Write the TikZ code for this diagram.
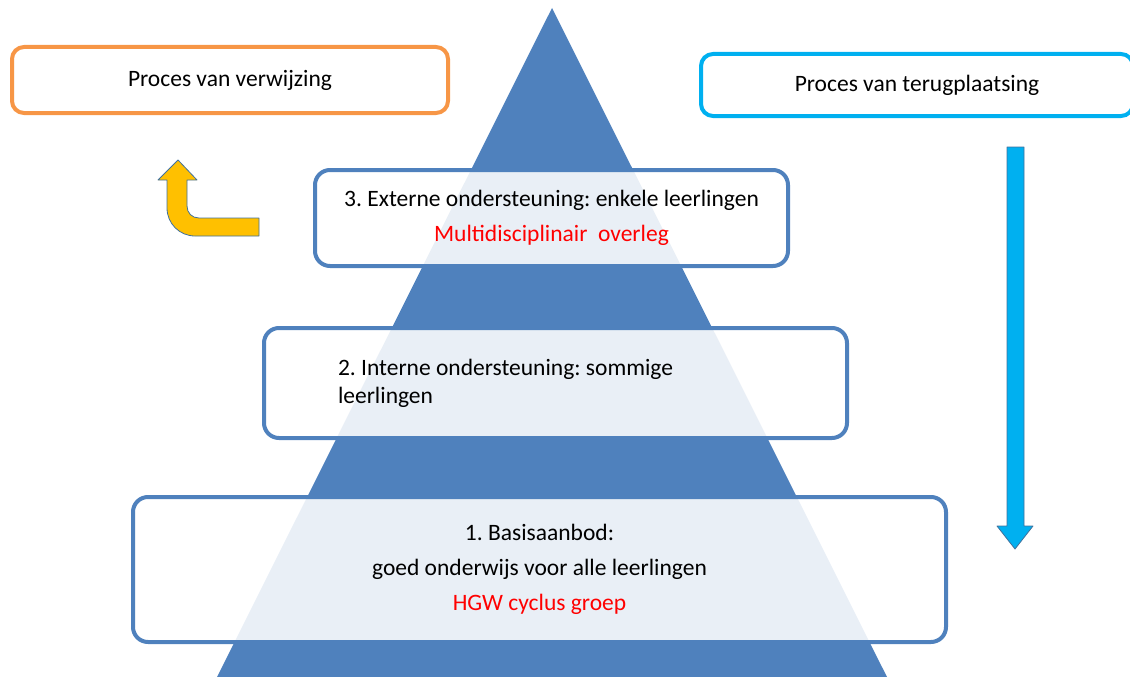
\documentclass[tikz,border=0pt]{standalone}
\usepackage{fontspec}
\setmainfont{Carlito}
\usetikzlibrary{positioning}
\definecolor{pyramid}{HTML}{4F81BD}
\definecolor{verwijs}{HTML}{F79646}
\definecolor{terug}{HTML}{00B0F0}
\definecolor{pijlgeel}{HTML}{FFC000}
\definecolor{rand}{HTML}{41719C}
\definecolor{rood}{HTML}{FF0000}

\begin{document}
\begin{tikzpicture}[x=1pt,y=-1pt,
   box/.style={draw=pyramid, line width=4pt, rounded corners=15pt, fill=white,
               fill opacity=0.88, text opacity=1, font=\fontsize{23.5}{28}\selectfont\frenchspacing, align=center},
   kop/.style={draw=#1, line width=4pt, rounded corners=12pt, fill=white,
               font=\fontsize{23.5}{28}\selectfont},
   pijl/.style={fill=#1, draw=rand, line width=0.8pt, line join=round}]
   \useasboundingbox (0,0) rectangle (1130,677);

   \fill[pyramid] (552,8) -- (887,677) -- (217,677) -- cycle;

   \node[kop=verwijs, minimum width=436, minimum height=66] (verwijzing) at (230,80) {Proces van verwijzing};
   \node[kop=terug, minimum width=432, minimum height=62] (terugplaatsing) at (917,85) {Proces van terugplaatsing};

   \node[box, minimum width=473, minimum height=96] (extern) at (551.5,218)
      {3. Externe ondersteuning: enkele leerlingen\\[7pt]\textcolor{rood}{Multidisciplinair\ \ overleg}};
   \node[box, minimum height=110, text width=435, inner xsep=74, align=flush left] (intern) at (555.5,383)
      {2. Interne ondersteuning: sommige\\leerlingen};
   \node[box, minimum width=813, minimum height=145] (basis) at (539.5,569.5)
      {1. Basisaanbod:\\[7pt]goed onderwijs voor alle leerlingen\\[7pt]\textcolor{rood}{HGW cyclus groep}};

   \draw[pijl=pijlgeel] (178,160) -- (197,180) -- (187,180) -- (187,206)
      .. controls (187,213) and (192,218) .. (199,218) -- (259,218) -- (259,236) -- (195,236)
      .. controls (179.5,236) and (167,223.5) .. (167,208) -- (167,180) -- (158,180) -- cycle;
   \draw[pijl=terug] (1007,147) -- (1024,147) -- (1024,526) -- (1033,526) -- (1015,549)
      -- (997,526) -- (1007,526) -- cycle;
\end{tikzpicture}
\end{document}
